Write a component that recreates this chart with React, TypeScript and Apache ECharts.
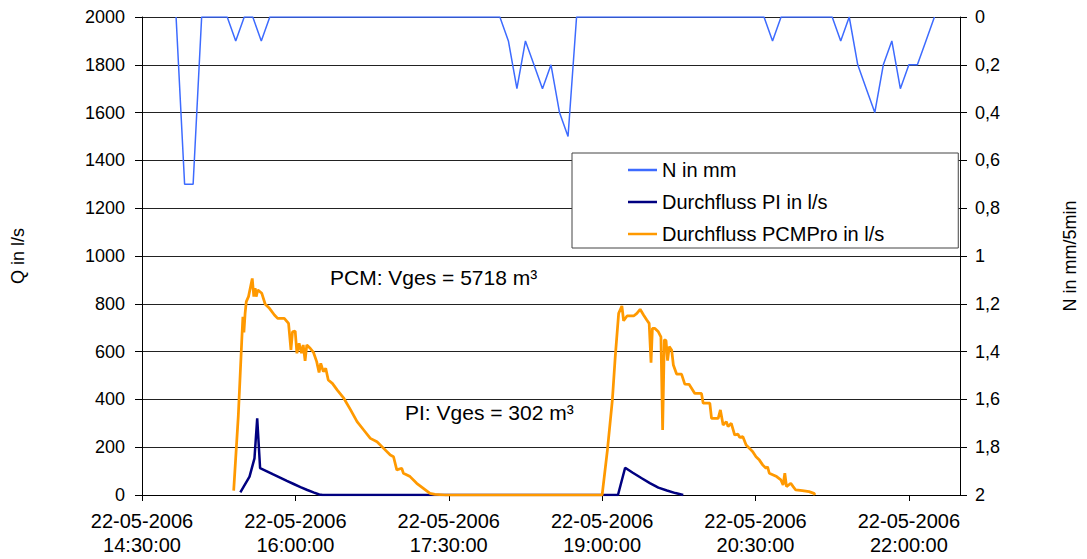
import React, { useEffect, useRef } from "react";
import * as echarts from "echarts";

// Time is given in minutes after 22-05-2006 14:30:00
const DATE_LABEL = "22-05-2006";
const START_MINUTES = 14 * 60 + 30;
const X_TICKS = [0, 90, 180, 270, 360, 450];

// Rain N in mm per 5 min, first value at minute 20 (14:50), one value every 5 minutes
const RAIN_START = 20;
const RAIN_STEP = 5;
const rainN = [
  // 14:50 - 15:45
  0, 0.7, 0.7, 0, 0, 0, 0, 0.1, 0, 0, 0.1, 0,
  // 15:50 - 17:55
  0, 0, 0, 0, 0, 0, 0, 0, 0, 0, 0, 0, 0, 0, 0, 0, 0, 0, 0, 0, 0, 0, 0, 0, 0, 0,
  // 18:00 - 18:45
  0, 0.1, 0.3, 0.1, 0.2, 0.3, 0.2, 0.4, 0.5, 0,
  // 18:50 - 20:30
  0, 0, 0, 0, 0, 0, 0, 0, 0, 0, 0, 0, 0, 0, 0, 0, 0, 0, 0, 0, 0,
  // 20:35 - 20:45
  0, 0.1, 0,
  // 20:50 - 21:10
  0, 0, 0, 0, 0,
  // 21:15 - 22:15
  0, 0.1, 0, 0.2, 0.3, 0.4, 0.2, 0.1, 0.3, 0.2, 0.2, 0.1, 0,
];

// Durchfluss PI in l/s: [minute, Q]
const piFlow = [
  [57.7, 11], [63.1, 77], [66, 153], [67.6, 321], [69.3, 112], [73, 100],
  [77, 86], [81, 73], [85, 59], [89, 46], [93, 33], [97, 21], [101, 10],
  [104, 2], [106, 0], [279.3, 0], [283.5, 114], [288, 93], [293, 71],
  [298, 50], [303, 31], [308, 19], [313, 8], [317.6, 0],
];

// Durchfluss PCMPro in l/s: [minute, Q]
const pcmFlow = [
  [53.8, 18], [56.5, 330], [58.5, 640], [59.2, 746], [59.8, 680], [60.5, 760],
  [61.2, 809], [62.5, 830], [64.7, 906], [65.6, 830], [66.4, 865], [67, 830],
  [68, 858], [70.3, 844], [72.3, 798], [74.8, 781], [77.7, 753], [79.6, 739],
  [83.5, 739], [86, 718], [87.4, 607], [88.3, 683], [89.9, 686], [90.9, 593],
  [92.2, 635], [93.6, 593], [94.6, 628], [95.7, 561], [96.7, 628], [98.7, 614],
  [100.6, 597], [102.5, 558], [103.9, 513], [104.9, 551], [106.4, 516],
  [107.8, 530], [109.3, 481], [111.7, 467], [114.6, 439], [118.5, 404],
  [122.4, 356], [126.2, 307], [130.1, 272], [134, 237], [137.9, 223],
  [141.8, 195], [145.7, 167], [147.6, 160], [149.5, 105], [152.4, 112],
  [153.4, 91], [157.3, 77], [161.2, 49], [165.1, 28], [169, 7], [171.9, 3],
  [177.7, 0], [270, 0], [273.1, 188], [276, 397], [277.7, 579], [279.7, 760],
  [281.6, 791], [282.6, 729], [284.6, 749], [288.5, 749], [290.4, 760],
  [292.3, 777], [294.3, 753], [296.2, 732], [297.6, 718], [298.7, 554],
  [299.5, 697], [301, 697], [303, 683], [304.5, 662], [305.5, 272],
  [306.5, 649], [307.5, 646], [308.4, 562], [309.4, 621], [310.8, 607],
  [311.8, 544], [313.7, 506], [316.6, 506], [318.5, 464], [321, 463],
  [324.4, 425], [328.3, 425], [329.3, 384], [333.2, 384], [334.2, 321],
  [338.1, 321], [339.4, 356], [341, 293], [342.9, 307], [343.9, 286],
  [345.8, 300], [347.8, 251], [349.7, 255], [350.7, 241], [352.6, 244],
  [354.5, 209], [356.5, 195], [358.4, 181], [360.3, 160], [362.3, 146],
  [364.2, 126], [366.2, 112], [367.1, 118], [368.1, 91], [370.4, 84],
  [372.4, 77], [374.9, 63], [376.2, 42], [377.2, 91], [378.2, 35],
  [380.7, 49], [382.1, 35], [383.6, 21], [387.5, 18], [391.4, 14],
  [394.3, 7], [394.9, 0],
];

const SERIES_NAMES = ["N in mm", "Durchfluss PI in l/s", "Durchfluss PCMPro in l/s"];
const SERIES_COLORS = ["#3D6BFF", "#000080", "#FF9900"];
const ANNOTATIONS = ["PCM: Vges = 5718 m³", "PI: Vges = 302 m³"];

const FONT = "'Liberation Sans', Arial, Helvetica, sans-serif";

function fmtTime(v: number): string {
  const tot = START_MINUTES + Math.round(v);
  const h = Math.floor(tot / 60);
  const m = tot % 60;
  return `${DATE_LABEL}\n${h}:${String(m).padStart(2, "0")}:00`;
}

export default function App() {
  const ref = useRef<HTMLDivElement>(null);

  useEffect(() => {
    document.body.style.margin = "0";
    if (!ref.current) return;
    const chart = echarts.init(ref.current, null, { renderer: "svg" });

    const rainData = rainN.map((v, i) => [RAIN_START + RAIN_STEP * i, v]);

    chart.setOption({
      animation: false,
      backgroundColor: "#ffffff",
      textStyle: { fontFamily: FONT, color: "#000" },
      grid: { left: 142, right: 122, top: 17, bottom: 64, containLabel: false },
      legend: {
        left: 572,
        top: 153,
        orient: "vertical",
        data: SERIES_NAMES.map((name) => ({ name, icon: "rect" })),
        padding: [7, 74, 4, 56],
        itemGap: 12,
        itemWidth: 29,
        itemHeight: 2.5,
        backgroundColor: "#ffffff",
        borderColor: "#444",
        borderWidth: 1,
        textStyle: { fontFamily: FONT, fontSize: 20, color: "#000", lineHeight: 20 },
        selectedMode: false,
      },
      xAxis: {
        type: "value",
        min: 0,
        max: 480,
        interval: 90,
        axisLine: { show: true, onZero: false, lineStyle: { color: "#000", width: 1 } },
        axisTick: { show: true, length: 6, customValues: X_TICKS, lineStyle: { color: "#000" } },
        axisLabel: {
          customValues: X_TICKS,
          formatter: (v: number) => fmtTime(v),
          fontFamily: FONT,
          fontSize: 20,
          lineHeight: 24,
          color: "#000",
          margin: 14,
        },
        splitLine: { show: false },
      },
      yAxis: [
        {
          type: "value",
          min: 0,
          max: 2000,
          interval: 200,
          name: "Q in l/s",
          nameLocation: "middle",
          nameGap: 115,
          nameTextStyle: { fontFamily: FONT, fontSize: 18, color: "#000" },
          axisLine: { show: true, lineStyle: { color: "#000", width: 1 } },
          axisTick: { show: true, length: 7, lineStyle: { color: "#000" } },
          axisLabel: {
            fontFamily: FONT,
            fontSize: 18,
            color: "#000",
            margin: 17,
            formatter: (v: number) => String(v),
          },
          splitLine: { show: true, lineStyle: { color: "#222", width: 1 } },
        },
        {
          type: "value",
          min: 0,
          max: 2,
          interval: 0.2,
          inverse: true,
          position: "right",
          name: "N in mm/5min",
          nameLocation: "middle",
          nameGap: 101,
          nameTextStyle: { fontFamily: FONT, fontSize: 18, color: "#000" },
          axisLine: { show: true, lineStyle: { color: "#000", width: 1 } },
          axisTick: { show: true, length: 7, lineStyle: { color: "#000" } },
          axisLabel: {
            fontFamily: FONT,
            fontSize: 18,
            color: "#000",
            margin: 15,
            formatter: (v: number) => String(+v.toFixed(1)).replace(".", ","),
          },
          splitLine: { show: false },
        },
      ],
      series: [
        {
          name: SERIES_NAMES[0],
          type: "line",
          yAxisIndex: 1,
          data: rainData,
          symbol: "none",
          lineStyle: { color: SERIES_COLORS[0], width: 1.5 },
          itemStyle: { color: SERIES_COLORS[0] },
        },
        {
          name: SERIES_NAMES[1],
          type: "line",
          yAxisIndex: 0,
          data: piFlow,
          symbol: "none",
          lineStyle: { color: SERIES_COLORS[1], width: 2.5 },
          itemStyle: { color: SERIES_COLORS[1] },
        },
        {
          name: SERIES_NAMES[2],
          type: "line",
          yAxisIndex: 0,
          data: pcmFlow,
          symbol: "none",
          lineStyle: { color: SERIES_COLORS[2], width: 2.75 },
          itemStyle: { color: SERIES_COLORS[2] },
        },
      ],
      graphic: [
        {
          type: "text",
          x: 330,
          y: 277,
          style: {
            text: ANNOTATIONS[0],
            fontFamily: FONT,
            fontSize: 21,
            fill: "#000",
            verticalAlign: "middle",
          },
        },
        {
          type: "text",
          x: 405,
          y: 412,
          style: {
            text: ANNOTATIONS[1],
            fontFamily: FONT,
            fontSize: 21,
            fill: "#000",
            verticalAlign: "middle",
          },
        },
      ],
    });

    return () => chart.dispose();
  }, []);

  return <div ref={ref} style={{ width: 1087, height: 559 }} />;
}
